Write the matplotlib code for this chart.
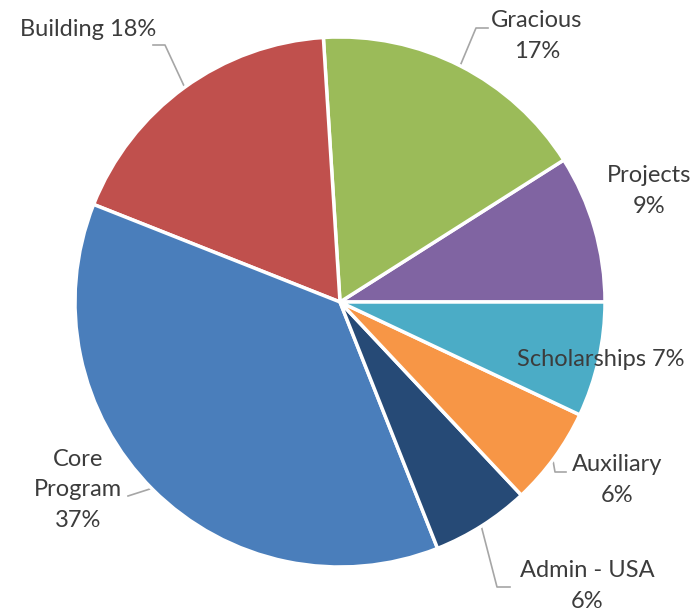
import numpy as np
import matplotlib.pyplot as plt

# slice data, in drawing order (counter-clockwise from 3 o'clock)
categories = ["Projects", "Gracious", "Building", "Core Program",
              "Admin - USA", "Auxiliary", "Scholarships"]
shares = [9, 17, 18, 37, 6, 6, 7]
label_texts = ["Projects\n9%", "Gracious\n17%", "Building 18%",
               "Core\nProgram\n37%", "Admin - USA\n6%", "Auxiliary\n6%",
               "Scholarships 7%"]
colors = ["#8064A2", "#9BBB59", "#C0504D", "#4A7EBB",
          "#264A76", "#F79646", "#4BACC6"]

W, H = 691, 613
CX, CY, R = 340, 302, 265


def P(x, y):
    # pixel coords (origin top-left) -> data coords
    return x, -y


fig = plt.figure(figsize=(W / 100, H / 100), dpi=100)
ax = fig.add_axes([0, 0, 1, 1])

wedges, _ = ax.pie(shares, colors=colors, startangle=0, counterclock=True,
                   center=P(CX, CY), radius=R,
                   wedgeprops=dict(edgecolor="white", linewidth=2.5))

ax.set_aspect("equal")
ax.set_xlim(0, W)
ax.set_ylim(-H, 0)
ax.axis("off")

# label layout: text centre, and leader path (elbow, end) or None
layout = {
    "Projects": ((649, 191), None),
    "Gracious": ((537, 36), [(476, 28), (488, 28)]),
    "Building": ((88, 30), [(165, 45), (153, 45)]),
    "Core Program": ((78, 490), [(128, 496)]),
    "Admin - USA": ((587, 586), [(497, 587), (510, 587)]),
    "Auxiliary": ((617, 480), [(555, 472), (566, 472)]),
    "Scholarships": ((601, 359), None),
}

txt_color = "#3C3C3C"
line_color = "#A6A6A6"

for w, cat, txt in zip(wedges, categories, label_texts):
    (tx, ty), path = layout[cat]
    ax.text(*P(tx, ty), txt, ha="center", va="center", fontsize=17,
            family="Lato", color=txt_color, linespacing=1.55)
    if path:
        mid = np.deg2rad((w.theta1 + w.theta2) / 2)
        sx = CX + R * np.cos(mid) * 0.99
        sy = CY - R * np.sin(mid) * 0.99
        pts = [(sx, sy)] + path
        xs = [p[0] for p in pts]
        ys = [-p[1] for p in pts]
        ax.plot(xs, ys, color=line_color, linewidth=1.2, zorder=0.5)

fig.savefig("out.png", dpi=100)
